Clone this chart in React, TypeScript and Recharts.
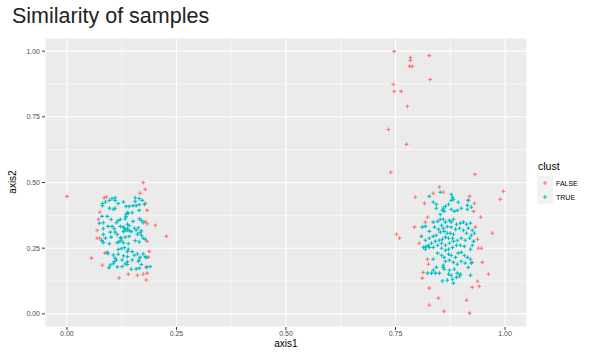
import React from 'react'
import {
  ScatterChart,
  Scatter,
  XAxis,
  YAxis,
  CartesianGrid,
  ReferenceLine,
} from 'recharts'

// [axis1, axis2] pairs
const falsePoints: [number, number][] = [
  [0.0, 0.447], [0.174, 0.5], [0.179, 0.474], [0.167, 0.459], [0.085, 0.442], [0.09, 0.445],
  [0.179, 0.421], [0.183, 0.394], [0.075, 0.387], [0.072, 0.36], [0.179, 0.351], [0.183, 0.343],
  [0.202, 0.337], [0.069, 0.318], [0.227, 0.295], [0.069, 0.288], [0.075, 0.288], [0.183, 0.276],
  [0.079, 0.279], [0.188, 0.238], [0.087, 0.231], [0.186, 0.216], [0.056, 0.212], [0.081, 0.185],
  [0.183, 0.179], [0.119, 0.137], [0.14, 0.151], [0.161, 0.147], [0.174, 0.151], [0.183, 0.155],
  [0.181, 0.129],
  [0.747, 0.999], [0.827, 0.983], [0.784, 0.976], [0.784, 0.965], [0.782, 0.942], [0.788, 0.942],
  [0.829, 0.892], [0.745, 0.873], [0.747, 0.847], [0.763, 0.847], [0.777, 0.79], [0.734, 0.702],
  [0.775, 0.645], [0.739, 0.539], [0.931, 0.531], [0.85, 0.483], [0.859, 0.463], [0.836, 0.459],
  [0.795, 0.444], [0.816, 0.421], [0.919, 0.447], [0.916, 0.432], [0.93, 0.421], [0.928, 0.39],
  [0.996, 0.466], [0.989, 0.436], [0.823, 0.368], [0.818, 0.349], [0.793, 0.33], [0.944, 0.368],
  [0.932, 0.33], [0.971, 0.307], [0.752, 0.303], [0.759, 0.288], [0.804, 0.269], [0.937, 0.284],
  [0.939, 0.25], [0.946, 0.25], [0.823, 0.208], [0.825, 0.189], [0.925, 0.196], [0.948, 0.196],
  [0.813, 0.158], [0.811, 0.136], [0.962, 0.151], [0.937, 0.124], [0.941, 0.105], [0.925, 0.101],
  [0.827, 0.098], [0.848, 0.06], [0.827, 0.033], [0.912, 0.052], [0.861, 0.01], [0.919, 0.003],
]

const truePoints: [number, number][] = [
  [0.097, 0.432], [0.103, 0.439], [0.11, 0.442], [0.11, 0.432], [0.117, 0.42], [0.11, 0.402],
  [0.097, 0.402], [0.081, 0.42], [0.081, 0.412], [0.088, 0.426], [0.156, 0.442], [0.156, 0.428],
  [0.165, 0.439], [0.172, 0.432], [0.177, 0.417], [0.165, 0.416], [0.158, 0.412], [0.151, 0.412],
  [0.142, 0.409], [0.135, 0.409], [0.129, 0.426], [0.106, 0.398], [0.138, 0.385], [0.135, 0.379],
  [0.14, 0.383], [0.149, 0.385], [0.165, 0.394], [0.135, 0.37], [0.133, 0.362], [0.122, 0.36],
  [0.117, 0.355], [0.113, 0.347], [0.101, 0.36], [0.092, 0.371], [0.08, 0.371], [0.083, 0.347],
  [0.074, 0.345], [0.083, 0.324], [0.094, 0.333], [0.103, 0.333], [0.108, 0.324], [0.099, 0.311],
  [0.11, 0.311], [0.122, 0.333], [0.131, 0.326], [0.138, 0.341], [0.142, 0.336], [0.151, 0.352],
  [0.165, 0.362], [0.17, 0.356], [0.174, 0.347], [0.154, 0.326], [0.158, 0.318], [0.163, 0.327],
  [0.17, 0.316], [0.142, 0.317], [0.138, 0.318], [0.133, 0.318], [0.129, 0.313], [0.129, 0.33],
  [0.138, 0.324], [0.147, 0.313], [0.083, 0.302], [0.088, 0.288], [0.101, 0.292], [0.115, 0.302],
  [0.122, 0.29], [0.124, 0.28], [0.119, 0.275], [0.129, 0.271], [0.124, 0.288], [0.133, 0.292],
  [0.142, 0.295], [0.161, 0.303], [0.167, 0.309], [0.174, 0.288], [0.179, 0.284], [0.156, 0.279],
  [0.165, 0.274], [0.17, 0.299], [0.083, 0.271], [0.08, 0.279], [0.14, 0.267], [0.115, 0.271],
  [0.097, 0.267], [0.117, 0.245], [0.124, 0.248], [0.131, 0.252], [0.14, 0.246], [0.138, 0.237],
  [0.149, 0.237], [0.092, 0.234], [0.094, 0.229], [0.106, 0.224], [0.117, 0.227], [0.129, 0.221],
  [0.11, 0.212], [0.113, 0.205], [0.126, 0.205], [0.138, 0.218], [0.154, 0.223], [0.161, 0.228],
  [0.174, 0.228], [0.179, 0.218], [0.181, 0.214], [0.167, 0.215], [0.165, 0.205], [0.163, 0.2],
  [0.149, 0.205], [0.138, 0.198], [0.133, 0.19], [0.108, 0.199], [0.099, 0.186], [0.106, 0.191],
  [0.096, 0.176], [0.147, 0.17], [0.138, 0.188], [0.158, 0.171], [0.165, 0.174], [0.17, 0.188],
  [0.181, 0.177], [0.19, 0.18], [0.126, 0.18], [0.115, 0.179],
  [0.827, 0.447], [0.852, 0.463], [0.877, 0.455], [0.88, 0.444], [0.877, 0.432], [0.882, 0.436],
  [0.893, 0.425], [0.916, 0.432], [0.914, 0.413], [0.923, 0.406], [0.914, 0.398], [0.9, 0.402],
  [0.891, 0.394], [0.884, 0.39], [0.877, 0.398], [0.871, 0.417], [0.864, 0.409], [0.859, 0.402],
  [0.857, 0.394], [0.861, 0.39], [0.843, 0.417], [0.843, 0.402], [0.852, 0.379], [0.836, 0.425],
  [0.836, 0.349], [0.846, 0.352], [0.852, 0.36], [0.859, 0.36], [0.864, 0.349], [0.873, 0.356],
  [0.877, 0.349], [0.882, 0.36], [0.889, 0.341], [0.898, 0.345], [0.905, 0.349], [0.912, 0.341],
  [0.921, 0.345], [0.916, 0.326], [0.925, 0.318], [0.93, 0.307], [0.923, 0.299], [0.912, 0.307],
  [0.905, 0.318], [0.896, 0.326], [0.887, 0.322], [0.877, 0.33], [0.868, 0.332], [0.859, 0.326],
  [0.855, 0.337], [0.848, 0.322], [0.839, 0.33], [0.827, 0.314], [0.818, 0.333], [0.811, 0.33],
  [0.809, 0.295], [0.818, 0.28], [0.827, 0.288], [0.836, 0.295], [0.843, 0.299], [0.852, 0.311],
  [0.861, 0.314], [0.868, 0.307], [0.875, 0.307], [0.882, 0.303], [0.88, 0.288], [0.871, 0.288],
  [0.864, 0.292], [0.857, 0.284], [0.85, 0.28], [0.841, 0.276], [0.832, 0.269], [0.825, 0.261],
  [0.82, 0.257], [0.814, 0.253], [0.818, 0.246], [0.827, 0.253], [0.836, 0.253], [0.846, 0.261],
  [0.855, 0.269], [0.864, 0.261], [0.873, 0.269], [0.882, 0.276], [0.891, 0.28], [0.9, 0.288],
  [0.909, 0.28], [0.919, 0.288], [0.928, 0.276], [0.925, 0.261], [0.921, 0.246], [0.907, 0.257],
  [0.898, 0.261], [0.889, 0.261], [0.88, 0.253], [0.871, 0.246], [0.864, 0.242], [0.855, 0.25],
  [0.846, 0.231], [0.855, 0.223], [0.861, 0.215], [0.871, 0.227], [0.877, 0.223], [0.887, 0.215],
  [0.893, 0.231], [0.9, 0.234], [0.907, 0.223], [0.914, 0.215], [0.921, 0.208], [0.923, 0.193],
  [0.916, 0.177], [0.909, 0.193], [0.9, 0.2], [0.891, 0.189], [0.882, 0.196], [0.873, 0.204],
  [0.864, 0.2], [0.859, 0.185], [0.861, 0.17], [0.873, 0.166], [0.884, 0.17], [0.891, 0.155],
  [0.898, 0.151], [0.889, 0.139], [0.877, 0.147], [0.871, 0.151], [0.88, 0.132], [0.882, 0.117],
  [0.868, 0.128], [0.857, 0.125], [0.85, 0.155], [0.841, 0.155], [0.832, 0.155], [0.823, 0.155],
  [0.836, 0.166], [0.843, 0.177], [0.836, 0.208], [0.859, 0.177], [0.896, 0.144], [0.921, 0.147],
]

const majorTicks = [0, 0.25, 0.5, 0.75, 1]
const minorTicks = [0.125, 0.375, 0.625, 0.875]
const groups = ['FALSE', 'TRUE']
const colors = ['#F8766D', '#00BFC4']

const falseData = falsePoints.map(([x, y]) => ({ x, y }))
const trueData = truePoints.map(([x, y]) => ({ x, y }))

const plus = (color: string) => (props: any) => {
  const { cx, cy } = props
  const r = 1.9
  return (
    <path
      d={`M${cx - r},${cy}H${cx + r}M${cx},${cy - r}V${cy + r}`}
      stroke={color}
      strokeWidth={1.1}
      fill="none"
    />
  )
}

const font = '"Liberation Sans", Arial, sans-serif'

export default function App() {
  return (
    <div style={{ position: 'absolute', left: 0, top: 0, width: 589, height: 353, background: '#fff', fontFamily: font }}>
      <div style={{ position: 'absolute', left: 12, top: 4, fontSize: 21.5, color: '#222' }}>Similarity of samples</div>
      <ScatterChart width={589} height={353} margin={{ top: 38, right: 62, bottom: 0, left: 15 }}>
        <CartesianGrid fill="#EBEBEB" stroke="#fff" strokeWidth={1.1} />
        {minorTicks.map((t) => (
          <ReferenceLine key={`mx${t}`} x={t} stroke="#fff" strokeWidth={0.6} />
        ))}
        {minorTicks.map((t) => (
          <ReferenceLine key={`my${t}`} y={t} stroke="#fff" strokeWidth={0.6} />
        ))}
        <XAxis
          type="number"
          dataKey="x"
          domain={[-0.05, 1.05]}
          ticks={majorTicks}
          allowDataOverflow
          tickFormatter={(v: number) => v.toFixed(2)}
          tick={{ fontSize: 7, fill: '#4D4D4D', fontFamily: font }}
          tickLine={{ stroke: '#333' }}
          tickSize={3}
          tickMargin={1}
          axisLine={false}
          height={26}
        />
        <YAxis
          type="number"
          dataKey="y"
          domain={[-0.05, 1.05]}
          ticks={majorTicks}
          allowDataOverflow
          tickFormatter={(v: number) => v.toFixed(2)}
          tick={{ fontSize: 7, fill: '#4D4D4D', fontFamily: font }}
          tickLine={{ stroke: '#333' }}
          tickSize={3}
          tickMargin={2}
          axisLine={false}
          width={30}
        />
        <Scatter data={falseData} fill={colors[0]} shape={plus(colors[0])} isAnimationActive={false} />
        <Scatter data={trueData} fill={colors[1]} shape={plus(colors[1])} isAnimationActive={false} />
      </ScatterChart>
      <div style={{ position: 'absolute', left: 0, width: 572, top: 338, textAlign: 'center', fontSize: 10, color: '#000' }}>axis1</div>
      <div
        style={{
          position: 'absolute',
          left: 12,
          top: 182,
          fontSize: 10,
          color: '#000',
          transform: 'translate(-50%, -50%) rotate(-90deg)',
        }}
      >
        axis2
      </div>
      <div style={{ position: 'absolute', left: 538, top: 160, fontSize: 10.5, color: '#000' }}>clust</div>
      <svg style={{ position: 'absolute', left: 537, top: 176 }} width={50} height={30}>
        {groups.map((g, i) => (
          <g key={g}>
            <rect x={0} y={i * 14} width={16} height={14} fill="#F2F2F2" />
            {plus(colors[i])({ cx: 8, cy: i * 14 + 7 })}
            <text x={19} y={i * 14 + 9.5} fontSize={7} fill="#000" fontFamily={font}>
              {g}
            </text>
          </g>
        ))}
      </svg>
    </div>
  )
}
